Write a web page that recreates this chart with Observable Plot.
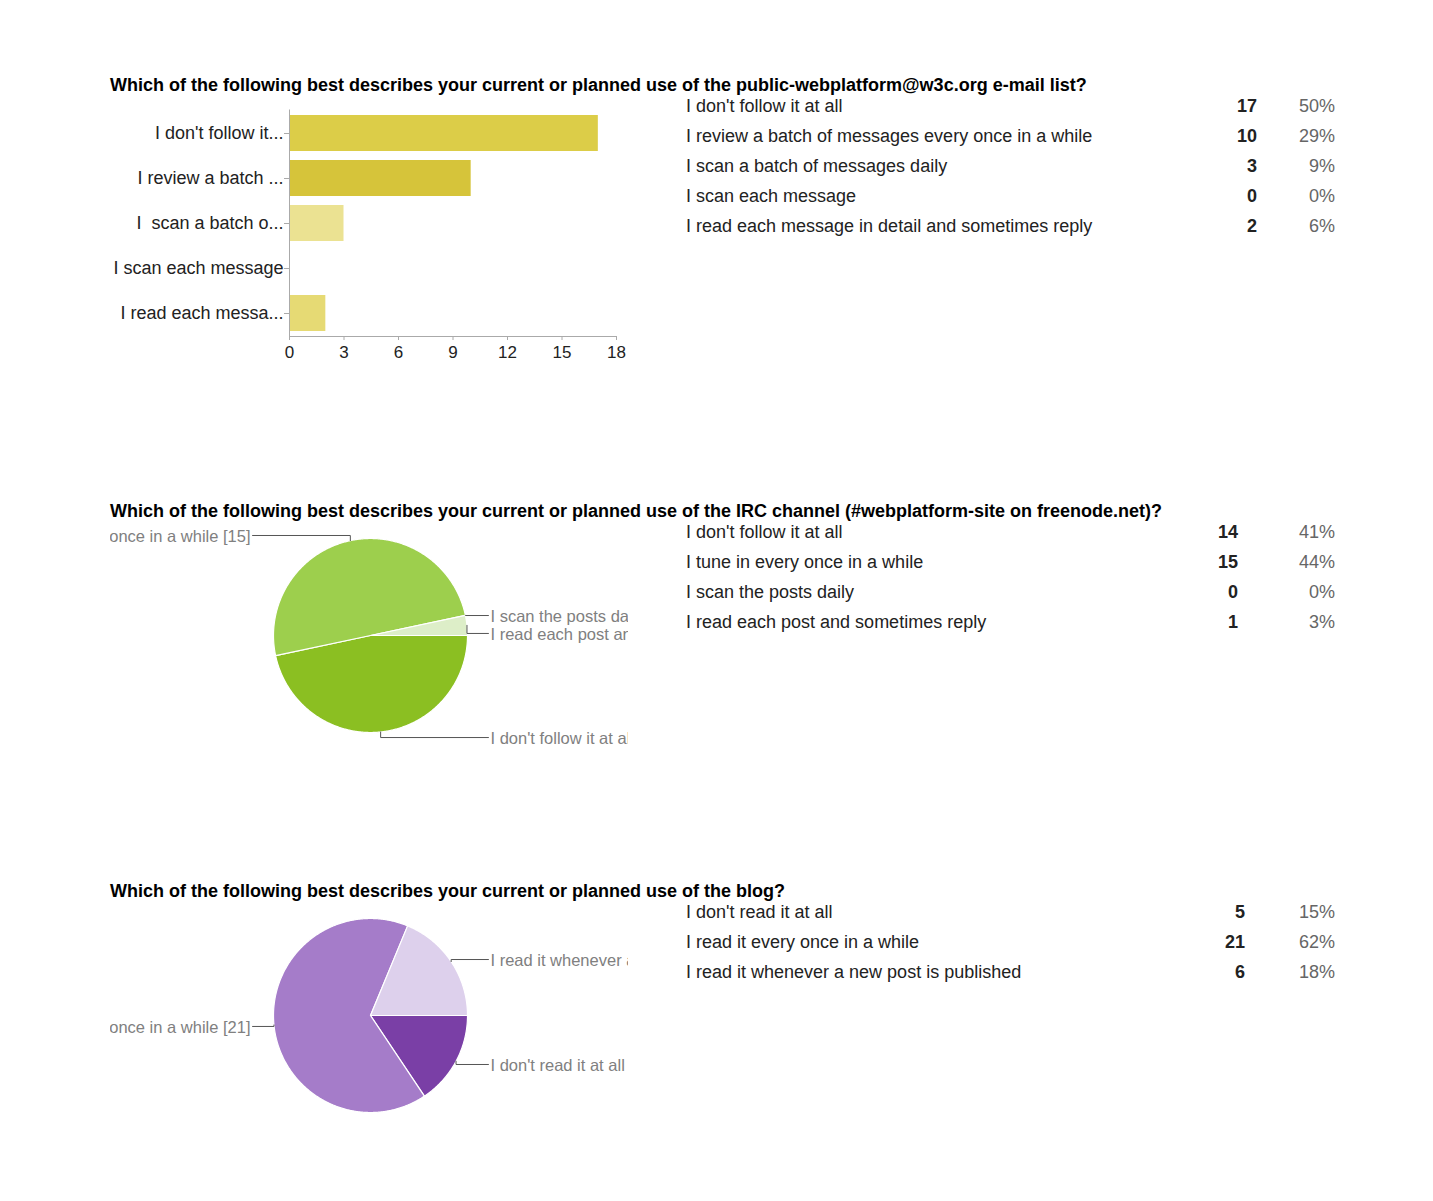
<!DOCTYPE html>
<html><head><meta charset="utf-8">
<script src="https://cdn.jsdelivr.net/npm/d3@7"></script>
<script src="https://cdn.jsdelivr.net/npm/@observablehq/plot@0.6"></script>
<style>
body{margin:0;background:#fff;}
#page{position:relative;width:1433px;height:1201px;font-family:"Liberation Sans",Arial,sans-serif;overflow:hidden;background:#fff}
.title{position:absolute;left:110px;font-weight:bold;font-size:18px;color:#000;white-space:nowrap;line-height:20px}
.cell{position:absolute;height:30px;line-height:30px;font-size:18px;white-space:pre;color:#222}
.cnt{font-weight:bold;text-align:right}
.pct{color:#666;text-align:right}
.chart{position:absolute}
</style>
</head><body>
<div id="page"></div>
<script>
// ---------- data ----------
const q1Title = "Which of the following best describes your current or planned use of the public-webplatform@w3c.org e-mail list?";
const q1Answers = ["I don't follow it at all", "I review a batch of messages every once in a while", "I scan a batch of messages daily", "I scan each message", "I read each message in detail and sometimes reply"];
const q1AxisLabels = ["I don't follow it...", "I review a batch ...", "I  scan a batch o...", "I scan each message", "I read each messa..."];
const q1Counts = [17, 10, 3, 0, 2];
const q1Percents = ["50%", "29%", "9%", "0%", "6%"];
const q1Colors = ["#dccd48", "#d6c43a", "#ebe292", "#e6da74", "#e6da74"];
const q1Ticks = [0, 3, 6, 9, 12, 15, 18];

const q2Title = "Which of the following best describes your current or planned use of the IRC channel (#webplatform-site on freenode.net)?";
const q2Answers = ["I don't follow it at all", "I tune in every once in a while", "I scan the posts daily", "I read each post and sometimes reply"];
const q2Counts = [14, 15, 0, 1];
const q2Percents = ["41%", "44%", "0%", "3%"];
const q2Colors = ["#8bbf22", "#9dcf4d", "#c8e49e", "#ddeec8"];

const q3Title = "Which of the following best describes your current or planned use of the blog?";
const q3Answers = ["I don't read it at all", "I read it every once in a while", "I read it whenever a new post is published"];
const q3Counts = [5, 21, 6];
const q3Percents = ["15%", "62%", "18%"];
const q3Colors = ["#7a3fa6", "#a57cc9", "#ddd0ec"];

// ---------- layout ----------
const page = document.getElementById("page");
const FONT = '"Liberation Sans", Arial, sans-serif';
const measureCtx = document.createElement("canvas").getContext("2d");

function addTitle(text, centerY) {
  const d = document.createElement("div");
  d.className = "title"; d.textContent = text; d.style.top = (centerY - 10) + "px";
  page.appendChild(d);
}
function addTable(answers, counts, percents, firstCenter, countRight) {
  answers.forEach((a, i) => {
    const top = firstCenter + i * 30 - 15;
    const l = document.createElement("div"); l.className = "cell"; l.textContent = a;
    l.style.left = "686px"; l.style.top = top + "px"; page.appendChild(l);
    const c = document.createElement("div"); c.className = "cell cnt"; c.textContent = counts[i];
    c.style.right = (1433 - countRight) + "px"; c.style.top = top + "px"; page.appendChild(c);
    const p = document.createElement("div"); p.className = "cell pct"; p.textContent = percents[i];
    p.style.right = (1433 - 1335) + "px"; p.style.top = top + "px"; page.appendChild(p);
  });
}
function place(el, left, top) {
  const w = document.createElement("div"); w.className = "chart";
  w.style.left = left + "px"; w.style.top = top + "px"; w.appendChild(el); page.appendChild(w);
}
// keep only the part of a label that reaches into the visible chart area (the rest is clipped anyway)
function fitText(text, avail, fromEnd, fontPx) {
  measureCtx.font = `${fontPx}px ${FONT}`;
  if (measureCtx.measureText(text).width <= avail) return text;
  if (!fromEnd) {
    for (let n = 1; n <= text.length; n++) if (measureCtx.measureText(text.slice(0, n)).width > avail) return text.slice(0, n);
  } else {
    for (let n = 1; n <= text.length; n++) if (measureCtx.measureText(text.slice(-n)).width > avail) return text.slice(-n);
  }
  return text;
}

// ---------- question 1 : bar chart ----------
addTitle(q1Title, 85);
addTable(q1Answers, q1Counts, q1Percents, 106, 1257);
const q1Rows = q1AxisLabels.map((s, i) => ({label: s, count: q1Counts[i], color: q1Colors[i]}));
const bar = Plot.plot({
  width: 540, height: 270,
  marginLeft: 189, marginRight: 24, marginTop: 9.5, marginBottom: 34,
  style: {fontFamily: FONT, fontSize: "18px", color: "#222", background: "transparent", overflow: "visible"},
  x: {domain: [0, 18], label: null},
  y: {domain: q1AxisLabels, paddingInner: 0.2, paddingOuter: 0.1, label: null},
  color: {type: "identity"},
  marks: [
    Plot.barX(q1Rows, {x: "count", y: "label", fill: "color"}),
    Plot.ruleX([0], {stroke: "#aaa"}),
    Plot.frame({anchor: "bottom", stroke: "#aaa"}),
    Plot.axisX({ticks: q1Ticks, tickSize: 4, tickPadding: 5, stroke: "#aaa", fill: "#222", fontSize: 17, label: null}),
    Plot.axisY({tickSize: 5, tickPadding: 1, stroke: "#aaa", fill: "#222", fontSize: 18, label: null})
  ]
});
place(bar, 100, 100);

// ---------- pies ----------
const PIE_W = 518, LABEL_PX = 16.5;
function pie(answers, counts, colors, cfg) {
  const total = d3.sum(counts);
  const rad = a => a * Math.PI / 180;
  const polar = (a, r = 1) => ({x: r * Math.sin(rad(a)), y: r * Math.cos(rad(a))});
  let a0 = 90;
  const slices = counts.map((c, i) => {
    const a1 = a0 + c / total * 360;
    const s = {i, a0, a1, mid: (a0 + a1) / 2};
    a0 = a1; return s;
  });
  const pts = [];
  slices.forEach(s => {
    if (s.a1 - s.a0 <= 0) return;
    pts.push({k: s.i, x: 0, y: 0, color: colors[s.i]});
    for (let a = s.a0; a < s.a1; a += 0.5) pts.push({k: s.i, ...polar(a), color: colors[s.i]});
    pts.push({k: s.i, ...polar(s.a1), color: colors[s.i]});
    pts.push({k: s.i, x: 0, y: 0, color: colors[s.i]});
  });
  const r = cfg.r;
  const lead = [], labels = [];
  slices.forEach(s => {
    const L = cfg.labels[s.i];
    const sign = L.side === "right" ? 1 : -1;
    const p = polar(s.mid);
    lead.push({k: s.i, x: p.x, y: p.y});
    lead.push({k: s.i, x: p.x, y: L.y});
    lead.push({k: s.i, x: sign * 1.216, y: L.y});
    const full = `${answers[s.i]} [${counts[s.i]}]`;
    const px = cfg.cx + sign * 1.237 * r;
    const avail = sign > 0 ? PIE_W - px : px;
    labels.push({side: L.side, x: sign * 1.237, y: L.y, text: fitText(full, avail, sign < 0, LABEL_PX)});
  });
  return Plot.plot({
    width: PIE_W, height: cfg.height, margin: 0,
    style: {fontFamily: FONT, fontSize: LABEL_PX + "px", background: "transparent", overflow: "hidden"},
    x: {domain: [-cfg.cx / r, (PIE_W - cfg.cx) / r], axis: null},
    y: {domain: [(cfg.cy - cfg.height) / r, cfg.cy / r], axis: null},
    color: {type: "identity"},
    marks: [
      Plot.line(pts, {x: "x", y: "y", z: "k", fill: "color", stroke: "#fff", strokeWidth: 1.2, curve: "linear"}),
      Plot.line(lead, {x: "x", y: "y", z: "k", stroke: "#555", strokeWidth: 1, curve: "linear"}),
      Plot.text(labels.filter(d => d.side === "right"), {x: "x", y: "y", text: "text", textAnchor: "start", fill: "#808080", dy: 1}),
      Plot.text(labels.filter(d => d.side === "left"), {x: "x", y: "y", text: "text", textAnchor: "end", fill: "#808080", dy: 1})
    ]
  });
}

addTitle(q2Title, 511);
addTable(q2Answers, q2Counts, q2Percents, 532, 1238);
place(pie(q2Answers, q2Counts, q2Colors, {height: 240, cx: 260, cy: 115, r: 97,
  labels: [{side: "right", y: -1.052}, {side: "left", y: 1.031}, {side: "right", y: 0.206}, {side: "right", y: 0.021}]}), 110, 520);

addTitle(q3Title, 891);
addTable(q3Answers, q3Counts, q3Percents, 912, 1245);
place(pie(q3Answers, q3Counts, q3Colors, {height: 220, cx: 260, cy: 115, r: 97,
  labels: [{side: "right", y: -0.505}, {side: "left", y: -0.113}, {side: "right", y: 0.577}]}), 110, 900);
</script>
</body></html>
